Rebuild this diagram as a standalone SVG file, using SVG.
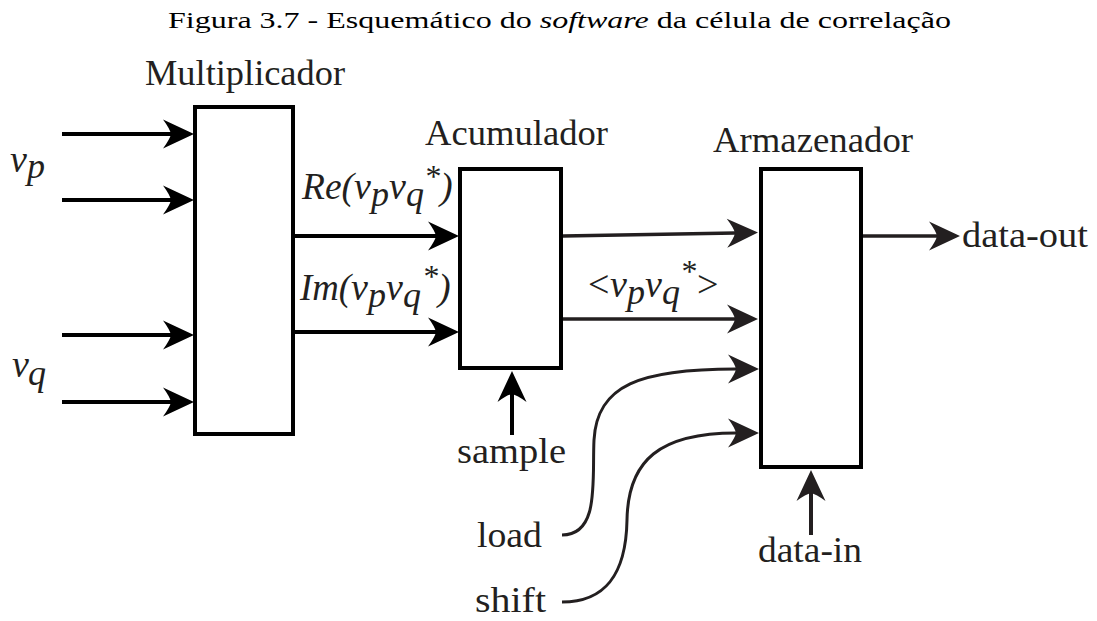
<svg xmlns="http://www.w3.org/2000/svg" width="1097" height="621" viewBox="0 0 1097 621">
<style>
text{font-family:"Liberation Serif","Times New Roman",serif;fill:#231f20}
.lbl{font-size:36px}
.m{font-size:38px;font-style:italic}
.s{font-size:36px}
.a{font-size:32px}
.up{font-style:normal}
.box{fill:#fff;stroke:#000;stroke-width:4}
.c{fill:none;stroke:#000;stroke-width:4}
.g{fill:none;stroke:#231f20;stroke-width:3.5}
.cv{fill:none;stroke:#231f20;stroke-width:3}
</style>
<defs>
<marker id="ah" markerUnits="userSpaceOnUse" orient="auto" refX="0" refY="0" markerWidth="40" markerHeight="40" overflow="visible">
<path d="M23,0 L-8,-14.5 Q-1,-5 0,0 Q-1,5 -8,14.5 Z" fill="#000"/>
</marker>
<marker id="ahg" markerUnits="userSpaceOnUse" orient="auto" refX="0" refY="0" markerWidth="40" markerHeight="40" overflow="visible">
<path d="M23,0 L-8,-14.5 Q-1,-5 0,0 Q-1,5 -8,14.5 Z" fill="#231f20"/>
</marker>
</defs>
<rect width="1097" height="621" fill="#fff"/>
<text x="168" y="28" style="font-size:24px;fill:#000" textLength="783" lengthAdjust="spacingAndGlyphs">Figura 3.7 - Esquemático do <tspan font-style="italic">software</tspan> da célula de correlação</text>

<g id="connectors">
<path class="c" d="M62,134 H171" marker-end="url(#ah)"/>
<path class="c" d="M62,200 H171" marker-end="url(#ah)"/>
<path class="c" d="M62,335 H171" marker-end="url(#ah)"/>
<path class="c" d="M62,402 H171" marker-end="url(#ah)"/>
<path class="c" d="M295,236 H436" marker-end="url(#ah)"/>
<path class="c" d="M295,332 H436" marker-end="url(#ah)"/>
<path class="g" d="M563,236 L735,233" marker-end="url(#ahg)"/>
<path class="g" d="M563,319 H735" marker-end="url(#ahg)"/>
<path class="g" d="M863,236 H937" marker-end="url(#ahg)"/>
<path class="c" d="M512,435 V394" marker-end="url(#ah)"/>
<path class="c" style="stroke:#231f20" d="M811,535 V493" marker-end="url(#ahg)"/>
<path class="cv" d="M562,535 C600,535 592,480 594,440 C597,385 640,369 736,369" marker-end="url(#ahg)"/>
<path class="cv" d="M562,602 C605,602 626,575 627,520 C628,460 660,433 736,433" marker-end="url(#ahg)"/>
</g>

<g id="multiplicador">
<rect class="box" x="195" y="107" width="98" height="327"/>
<text class="lbl" x="145" y="85" textLength="200" lengthAdjust="spacingAndGlyphs">Multiplicador</text>
</g>
<g id="acumulador">
<rect class="box" x="460" y="169" width="101" height="199"/>
<text class="lbl" x="425" y="145" textLength="183" lengthAdjust="spacingAndGlyphs">Acumulador</text>
</g>
<g id="armazenador">
<rect class="box" x="761" y="169" width="100" height="298"/>
<text class="lbl" x="713" y="152" textLength="200" lengthAdjust="spacingAndGlyphs">Armazenador</text>
</g>

<g id="vp">
<text class="m" y="172"><tspan x="10">v</tspan><tspan class="s" x="27" dy="6">p</tspan></text>
</g>
<g id="vq">
<text class="m" y="377"><tspan x="12">v</tspan><tspan class="s" x="28" dy="8">q</tspan></text>
</g>
<g id="re-label">
<text class="m" y="199"><tspan x="302" textLength="52" lengthAdjust="spacingAndGlyphs">Re(</tspan><tspan x="354">v</tspan><tspan class="s" x="371" dy="7">p</tspan><tspan x="389" dy="-7">v</tspan><tspan class="s" x="406" dy="7">q</tspan><tspan class="a" x="424" y="187">*</tspan><tspan x="440" y="199">)</tspan></text>
</g>
<g id="im-label">
<text class="m" y="300"><tspan x="300" textLength="51" lengthAdjust="spacingAndGlyphs">Im(</tspan><tspan x="351">v</tspan><tspan class="s" x="368" dy="7">p</tspan><tspan x="386" dy="-7">v</tspan><tspan class="s" x="403" dy="7">q</tspan><tspan class="a" x="422" y="287">*</tspan><tspan x="438" y="300">)</tspan></text>
</g>
<g id="avg-label">
<text class="m" y="297"><tspan class="up" x="588">&lt;</tspan><tspan x="610">v</tspan><tspan class="s" x="627" dy="7">p</tspan><tspan x="645" dy="-7">v</tspan><tspan class="s" x="662" dy="7">q</tspan><tspan class="a" x="680" y="282">*</tspan><tspan class="up" x="697" y="297">&gt;</tspan></text>
</g>
<g id="data-out">
<text class="lbl" x="962" y="247" textLength="126" lengthAdjust="spacingAndGlyphs">data-out</text>
</g>
<g id="sample">
<text class="lbl" x="457" y="463" textLength="109" lengthAdjust="spacingAndGlyphs">sample</text>
</g>
<g id="load">
<text class="lbl" x="477" y="547" textLength="65" lengthAdjust="spacingAndGlyphs">load</text>
</g>
<g id="shift">
<text class="lbl" x="475" y="612" textLength="71" lengthAdjust="spacingAndGlyphs">shift</text>
</g>
<g id="data-in">
<text class="lbl" x="758" y="562" textLength="104" lengthAdjust="spacingAndGlyphs">data-in</text>
</g>
</svg>
